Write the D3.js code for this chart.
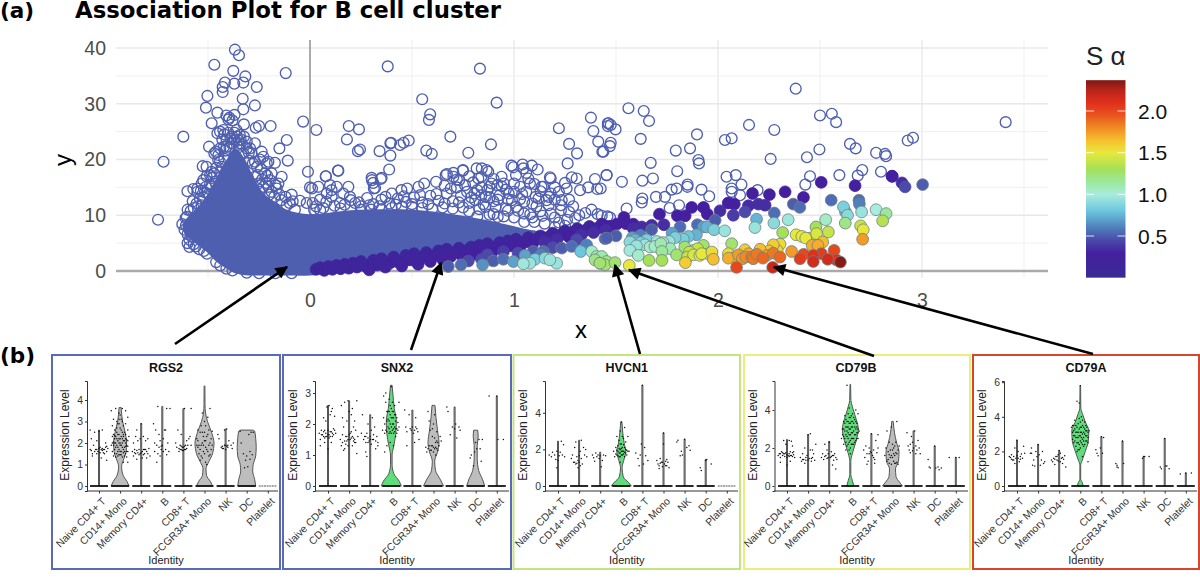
<!DOCTYPE html>
<html><head><meta charset="utf-8"><title>Association Plot</title>
<script src="https://d3js.org/d3.v7.min.js"></script>
<style>html,body{margin:0;padding:0;background:#fff}svg{display:block}</style></head><body>
<svg id="c" width="1200" height="580"></svg>
<script>
// ---------- Association plot: non-marker genes (open circles), read as x,y pairs ----------
const genesPeak=[-.368,39.7,-.348,38.7,-.469,37,-.376,35.9,-.317,34.9,-.119,35.5,-.417,33.8,-.371,33.6,-.327,33.8,-.261,33,-.428,33,-.428,32.1,-.503,31.4,-.33,30.9,-.27,29.7,-.51,29.3,-.327,29,-.454,28.4,-.41,27.9,-.395,27.5,-.37,28,-.4,27.2,-.38,27,-.482,26.5,-.324,26.3,-.266,25.7,-.25,26,-.193,26,-.034,26.8,.031,25.3,-.621,24.1,-.114,23.5,-.15,22,-.495,22.3,-.718,19.6,-.109,19.8,-.01,17.8,.139,18,.078,17,-.745,9.2,-.601,14.3,-.09,13.7,-.626,8.4,-.608,8.2,-.588,7.1,-.591,5.6,-.591,4.3,-.543,3.9,-.58,6.2,-.556,12.1,-.531,11.8,-.564,9.4,-.604,9.7,-.552,14.8,-.572,14.7,-.552,14.2,-.526,18.8,-.507,18.7,-.523,16.3,-.507,17,-.531,15.7,-.49,17.2,-.482,17.8,-.461,21.4,-.441,19.6,-.469,21.1,-.441,25,-.454,24.7,-.425,25.3,-.422,22.3,-.409,23.5,-.38,24.1,-.36,25.3,-.358,24.1,-.344,24.4,-.324,24.1,-.344,22.9,-.294,22,-.27,22.9,-.286,21.1,-.237,21.4,-.229,20.5,-.204,19.6,-.172,19.4,-.245,20,-.212,19.3,-.27,19.6,-.22,17.5,-.188,17.5,-.139,16.9,-.155,15.7,-.163,14.8,-.196,16.3,-.229,15.1,-.449,20.8,-.433,18.7,-.409,22.3,-.327,21.1,-.368,23.5,-.384,22.9,-.482,15.1,-.465,16,-.498,13.8,-.523,13.2,-.27,16.9,-.253,15.7,-.204,15.1,-.188,14.2,-.245,14.2];
const genesPeakDense=[-.42,24.5,-.4,24.8,-.39,23.7,-.37,24.8,-.35,23.4,-.34,23.6,-.31,23.2,-.43,23.6,-.415,21.6,-.395,22.1,-.35,22.2,-.33,22.6,-.31,22,-.3,21.2,-.44,22,-.45,19.9,-.46,18.5,-.44,17.7,-.42,20.1,-.3,19.8,-.28,19.3,-.26,18.7,-.24,18.3,-.255,17.2,-.235,16.4,-.215,15.8,-.21,17.1,-.17,15.4,-.2,13.7,-.175,13.3,-.15,13.7,-.14,12.7,-.12,13.3,-.1,12.2,-.085,12.5,-.47,17.5,-.48,16.7,-.49,15.5,-.51,15.1,-.515,14.1,-.535,14.4,-.54,13,-.55,11.6,-.57,11.3,-.575,12.5,-.585,10.8,-.6,11,-.61,9.5,-.615,7.4,-.6,6.6,-.6,5,-.57,4.8,-.56,4.4,-.52,3.6,-.505,3.1,-.46,1.6,-.44,1,-.41,.4,-.38,.1,-.31,-.3,-.25,-.4,-.17,-.4,-.09,-.4];
const genesMiddle=[.19,26,.24,25.4,.181,23.6,.235,21.5,.245,21.8,-.049,12.6,-.114,11.8,-.074,11,-.016,12.2,.013,12.2,0,15,.01,14.8,.041,15.1,.082,13.9,.106,14.5,.131,15.1,.106,13.3,.098,15.4,.188,15.1,.163,13.9,.196,13.3,.02,11,.049,12.8,.065,11.3,.147,12.2,.221,12.2,.381,36.7,.833,36.3,.55,30.8,.915,30.2,.589,28.1,.583,27.1,.341,21.5,.394,22.9,.394,20.7,.441,22.6,.459,23,.484,23.4,.57,21.6,.597,21,.688,24.1,.776,21.2,.887,22.7,.077,17,.137,18,.388,18.2,.397,23,.302,16.7,.351,16.7,.31,15.8,.319,14.9,.304,16.3,.347,16.5,.313,14.8,.401,13.9,.476,14.8,.448,14.5,.532,15.1,.56,15.7,.618,16,.665,17.2,.703,16.9,.75,18.1,.731,16.3,.806,13.9,.862,13.3,.918,15.4,.974,13.9,1.03,15.1,1.078,15.7,1.143,15.1,1.18,13.9,1.234,12.7,1.106,13.3,1.18,16.6,.671,17.4,.703,17.6,.749,18,.817,18.4,.842,18.4,.866,18.1,.825,16.6,.874,17.8,.89,15.7,.939,16.9,.988,18.9,.997,18.6,1.042,19.1,1.046,18.4,1.087,18.9,1.116,18.2,1.07,16.6,1.176,16.8,1.135,15.1,1.258,14.8,1.283,16.8,1.307,16.6,1.397,16.5,1.324,14.5,1.364,15,1.408,14.7,.24,12.3,.28,13.1,.31,12,.35,12.8,.39,12.1,.43,13,.47,12.4,.51,13.2,.55,12.3,.59,13.5,.63,12.6,.67,13.9,.7,12.5,.74,13.5,.78,12.2,.82,14.5,.85,12,.88,13.2,.91,11.5,.93,13.6,.96,11.2,.99,12.7,1.02,10.8,1.05,12.4,1.08,10.2,1.11,11.6,1.14,9.9,1.17,11.8,1.2,9.6,1.23,10.9,1.26,9.2,1.29,11.6,1.32,10,1.35,10.4,1.38,11,1.41,10.2,.72,15,.76,15.4,.8,15.9,.84,15,.88,15.1,.92,12.8,.96,14.6,1,15.7,1.04,13.8,1.12,13,1.16,12.7,1.22,14.2,1.27,12.8,.86,11.5,.9,10.2,.95,9.8,1,9.6,1.05,8.8,1.1,8.8,1.15,8.5,1.2,7.9,.3,11,.4,11.3,.5,11.5,.6,11.2,.7,11.2,.78,10.7,.82,9.8];
const genesMiddleDense=[.03,11.6,.08,12.4,.12,11.7,.17,11.9,.2,12.7,.25,11.6,.29,11.8,.34,11.6,.37,13.3,.42,11.9,.46,13.4,.5,12,.54,13.6,.58,12,.62,13.8,.66,12.1,.69,14.8,.73,12.3,.77,14.2,.81,12.7,.84,13.6,.87,14.5,.9,12.5,.94,15.2,.97,12.9,1,14.2,1.03,12.9,1.06,14.2,1.09,12.1,1.13,14.3,1.17,13.3,1.2,12.8,1.23,11.8,1.27,10.6,1.3,9.5,.66,15.3,.72,16.4,.78,17,.84,16.9,.9,16.5,.95,15.7,1.01,17.2,1.06,17.6,1.1,15.6,1.2,15,1.25,15.8,.79,13.2,.83,11.1,.88,10.1,.92,9.7,.97,10.8,1.01,11.5,1.05,10.3,1.09,9.6,1.13,10.7,1.18,10.3,1.22,8.7,1.25,8.1,.75,11.4,.65,11.4,.55,11.3,.45,11.5,.35,11.1,.25,11,.15,11.2,.05,10.9];
const genesRight=[1.377,27.5,1.22,25.6,1.389,25.1,1.27,22.8,1.413,23.2,1.309,21.1,1.433,21.4,1.263,19.3,1.454,17.2,1.46,26.5,1.46,26,1.47,22.4,1.561,29.2,1.636,28.7,1.662,26.9,2.381,32.7,2.5,27.9,2.558,28.2,2.579,26.7,2.152,26.2,2.276,25.3,2.067,23.8,2.034,23.5,1.897,24.5,1.863,22,1.793,21.6,1.621,23.7,1.463,26.5,1.474,26.2,1.498,25.4,1.474,23,1.438,21.4,1.67,19.4,1.904,19.9,1.907,19.3,1.8,17.9,2.258,20.1,2.436,20.4,2.497,21.8,2.647,22.8,2.675,22,2.775,21.2,2.819,21,2.824,20.6,2.799,17.8,2.707,18.1,2.685,17.1,2.595,17.2,2.451,17,2.428,15.5,2.042,16.9,2.087,17.2,2.115,15.5,2.067,14.8,2.067,14.2,2.194,14.5,2.108,13.6,1.454,17.2,1.529,16,1.629,16.2,1.681,16.6,1.851,15.5,1.85,15.1,1.797,14.8,1.773,14.6,1.919,14.6,1.957,13.4,1.74,13.3,1.696,13.3,1.629,13,1.626,12.3,1.809,11.8,1.763,11.3,1.552,11.2,1.458,9.8,1.43,9.9,1.471,9.6,1.425,14.8,3.41,26.7,2.93,23.4,2.956,23.9];
// overplotted solid mass of open circles: x, upper and lower edge of the filled cloud
const cloudX=[-.625,-.596,-.556,-.506,-.457,-.408,-.368,-.327,-.278,-.229,-.18,-.114,0,.2,.5,.7,.9,1.05,1.2];
const cloudTop=[8.4,9.8,11.2,13.6,16.8,20,22,20.5,17,14,12.6,11,10.2,10.9,11,10.2,8.9,7.6,6.8];
const cloudBottom=[7.2,6,4.8,3.4,1.6,.4,-.4,-.7,-.8,-.8,-.8,-.8,-.8,0,1,2.5,4,5,6];
// ---------- marker genes: x, y, S-alpha ----------
const markerBand=[.03,.3,.15,.05,.6,.15,.07,.1,.15,.09,.8,.15,.11,.3,.15,.13,1,.15,.15,.4,.15,.17,1.2,.15,.19,.5,.15,.21,1.4,.15,.23,.7,.15,.25,1.7,.15,.27,.9,.15,.29,.2,.2,.31,1.9,.15,.33,1.1,.15,.35,2.2,.15,.37,.7,.2,.39,1.4,.15,.41,2.5,.15,.43,1.7,.2,.45,.9,.25,.47,2.8,.15,.49,2,.2,.51,3.1,.15,.53,1.2,.25,.55,2.4,.2,.57,3.3,.15,.59,1.7,.25,.61,2.8,.2,.63,3.6,.15,.65,2.1,.25,.67,3.9,.15,.69,2.6,.2,.71,3.3,.2,.73,4.1,.15,.75,2.4,.3,.77,3.7,.2,.79,4.3,.15,.81,3,.3,.83,4.6,.15,.85,3.6,.25,.87,4.9,.15,.89,3.2,.3,.91,4.2,.2,.93,5.1,.15,.95,3.9,.3,.97,5.4,.15,.99,4.5,.25,1.01,5.7,.15,1.03,4.3,.3,1.05,5.2,.2,1.07,6,.15,1.09,4.8,.3,1.11,5.7,.2,1.13,6.3,.15,1.15,5.2,.35,1.17,6.1,.2,1.19,6.8,.15,1.21,5.6,.35,1.23,6.5,.2,1.25,7.2,.15,1.27,6.1,.3,1.29,7,.2,1.31,7.6,.15,1.33,6.5,.35,1.35,7.3,.2,1.37,8,.15,1.39,6.9,.35,1.41,7.7,.2,1.43,8.4,.2,1.45,7.3,.35,1.47,8,.3];
const markerLow=[1.381,3.5,1.05,1.405,2.6,1.1,1.397,2,1.2,1.446,1.1,1.25,1.421,1.4,1.25,1.446,5.8,.5,1.327,3.5,.8,1.356,4.7,.6,1.283,4.4,.55,1.234,4.1,.5,1.307,5.6,.45,1.209,1.4,.95,1.176,2,.95,1.152,2.3,.9,1.078,1.4,.95,1.046,1.3,.97,1.103,2.1,.85,1.054,2.8,.7,.997,1.7,.7,1.094,3.5,.5,1.143,3.5,.55,.948,2.1,.55,.899,1.8,.5,.846,1.1,.65,.841,2.1,.45,.776,1.8,.45,.74,1.1,.55,.678,.8,.5,.948,3.5,.4,.87,2.9,.45,1.02,3.2,.45,1.13,2.8,.6,1.19,4.2,.45];
const markerTop=[2.854,17,.3,2.853,17,.3,2.902,15.8,.35,2.917,15.1,.45,3.003,15.5,.5,2.506,15.9,.3,2.672,15.3,.3,2.329,14.2,.3,2.419,13.2,.3,2.252,13.7,.3,2.169,13.9,.3,2.369,12,.5,2.401,11.4,.55,2.555,12.7,.55,2.231,11.8,.35,2.198,12,.35,2.149,11.7,.35,2.05,12.2,.3,2.08,12,.3,2.01,10.8,.35,2.075,10,.4,2.132,10.6,.45,1.871,11.4,.3,1.929,11.4,.3,1.713,10.2,.3,1.801,9.9,.3,1.839,9.9,.3,1.948,10.2,.3,1.986,9.1,.5,1.899,8.3,.55,1.814,7.9,.55,1.735,8.3,.35,1.675,8.2,.35,1.675,7.4,.5,1.626,7.9,.35,1.585,8.4,.3,1.539,9.6,.3,1.503,8.4,.3,1.585,7.6,.35,1.549,8.5,.3,1.446,8.1,.3,1.471,7.9,.3,1.5,6.3,.5,1.455,5.9,.5,1.775,6.8,.7,1.945,7.9,.75,1.98,7.4,.85,2.033,7.2,.95,2.189,9.3,.75,2.181,7.8,.95,2.276,10.4,.55,2.274,8.6,.9,2.344,9.2,.97,2.528,9.2,1.05,2.615,11.5,.85,2.625,10.6,.75,2.635,10,.9,2.693,12,.6,2.691,12.7,.55,2.704,10.6,.95,2.775,11,1];
const markerHot=[2.317,6.9,1.3,2.624,8.6,1.2,2.699,8.1,1.4,2.712,7.4,1.5,2.709,5.7,1.75,2.824,10.3,1.15,2.807,9,1.35,2.383,6.5,1.5,2.411,6.2,1.5,2.451,5.9,1.45,2.48,7.9,1.3,2.483,6.7,1.45,2.541,7,1.4,2.513,5.2,1.65,2.462,4.6,1.7,2.569,3.7,2,2.507,3.1,2.05,2.467,2.8,2.1,2.538,2.1,2.15,2.467,1.7,2.15,2.6,1.6,2.35,2.402,2.2,2.05,2.361,3.5,1.75,2.304,4.8,1.55,2.271,4.7,1.6,2.304,2.5,1.9,2.239,2.8,1.75,2.271,3.2,1.85,2.091,.65,2,2.268,.65,2.2,2.206,3.9,1.65,2.165,2.5,1.85,2.132,3.8,1.6,2.173,2.2,1.85,2.136,2.5,1.8,2.067,4.9,1.25,2.051,3.1,1.55,2.051,2.3,1.7,1.977,2.1,1.65,1.928,4.6,1.25,1.911,2.8,1.5,1.952,3.1,1.45,1.84,1.5,1.6,1.837,4.3,1.25,1.797,2.9,1.25,1.725,1.9,1.3,1.662,1.9,1.3,1.725,3.5,1.15,1.667,4.3,1.05,1.609,2.8,1.05,1.568,3.7,.98,1.568,5.2,.9,1.593,5.6,.75,1.65,5.6,.85,1.642,4.7,.95,1.691,4.4,1.05,1.765,4,1.1,1.565,1,1.5,1.495,1.5,1.25,1.455,1.7,1.2,1.43,2.6,1.1,1.422,1.4,1.2,1.855,6.2,.8,1.83,5.7,.85,1.894,6.5,.75,1.928,7.9,.7,1.72,4.9,1.1,1.76,5.3,.95,1.79,6,.85,1.73,5.1,1,1.7,5.3,.95,1.62,5.1,.85,1.6,4.5,.95,1.58,6,.7,1.62,6.4,.6,1.88,3.7,1.35,1.9,4,1.4,1.86,3.4,1.4,1.88,2.9,1.45,1.92,3.1,1.5,1.85,2.5,1.4,1.97,3.4,1.55,2.08,2.4,1.65,2.1,2.9,1.75,2.12,2.2,1.75,2.15,3.1,1.7,2.19,3,1.85,2.22,2.3,1.9,2.25,3.6,1.6,2.29,3.7,1.55,2.42,3,2,2.43,5.9,1.5,2.49,4.6,1.7,2.58,2,2.1];
const colorStops=[0,.3,.45,.6,.8,1,1.15,1.3,1.5,1.65,1.8,1.95,2.1,2.25,2.37];
const colorValues=["#3a2a96","#44209f","#4b4aa9","#4f7fbc","#6cc6dd","#a8ecdd","#9be89a","#a5e05a","#e8e83a","#f6be2e","#f08a22","#e8541f","#e12f1d","#b92419","#7d1a16"];
const legendTicks=[.5,1,1.5,2];
// ---------- violin panels ----------
const identities=["Naive CD4+ T","CD14+ Mono","Memory CD4+","B","CD8+ T","FCGR3A+ Mono","NK","DC","Platelet"];
const genes=["RGS2","SNX2","HVCN1","CD79B","CD79A"];
const maxRGS2=[2.6,3.65,2.9,3.7,3.6,4.65,2.65,2.6,.02];
const maxSNX2=[2.6,2.75,2.3,3.25,2.45,2.6,2.55,1.8,2.9];
const maxHVCN1=[2.45,2.5,1.85,3.5,5.5,2.9,2.55,1.45,.02];
const maxCD79B=[2.45,2.7,2.35,5.35,2.75,3.4,2.9,2.1,1.5];
const maxCD79A=[2.65,2.4,2.05,5.8,2.85,2.6,1.7,2.75,.75];
const shapeRGS2={1:[[0,9],[.2,7],[.5,3],[.9,1.5],[1.3,4],[1.6,6],[2,6.5],[2.5,5],[3,2.5],[3.65,1]],5:[[0,8],[.2,6],[.5,2],[.8,1.5],[1.1,4],[1.5,8],[2,9.5],[2.5,7],[3,3],[3.4,1],[3.8,.5],[4.65,.4]],7:[[0,9],[.3,8],[.7,6],[1,6.5],[1.4,9],[1.8,9.5],[2.2,9],[2.55,8],[2.6,6]]};
const shapeSNX2={3:[[0,10],[.15,8],[.4,2.5],[.7,.8],[1,.8],[1.3,2.5],[1.7,4.5],[2.1,5],[2.5,3],[3,1.5],[3.25,.8]],5:[[0,10],[.2,7],[.5,2],[.8,1.2],[1.1,4],[1.4,5.5],[1.8,4],[2.2,2.5],[2.6,1.5]],7:[[0,9],[.2,7],[.5,3],[.9,1.5],[1.3,1.5],[1.6,2.5],[1.8,2]]};
const shapeHVCN1={3:[[0,10],[.2,7],[.5,2],[1,.8],[1.4,2.5],[1.9,4.5],[2.3,3],[2.9,1.5],[3.5,.6]]};
const shapeCD79B={3:[[0,3.5],[.3,2],[.6,.5],[1.3,.5],[1.7,2],[2.4,6],[3,8],[3.5,6],[4,3],[4.2,2],[4.5,.6],[5.35,.3]],5:[[0,10],[.2,7],[.5,3.5],[.9,3],[1.3,6],[1.8,6.5],[2.3,4],[2.8,2],[3.4,.7]]};
const shapeCD79A={3:[[0,3],[.2,2],[.4,.4],[1.2,.4],[1.5,2],[2,5],[2.6,8],[3.2,8.5],[3.7,5],[4.2,2],[4.5,.5],[5.8,.3]]};
const ticksRGS2=[0,1,2,3,4],ticksSNX2=[0,1,2,3],ticksHVCN1=[0,2,4],ticksCD79B=[0,2,4],ticksCD79A=[0,2,4,6];
const dotsRGS2=[
[-8,1.7,-6,1.5,-5,1.9,-3,1.7,-1,1.6,1,1.8,3,1.65,5,1.7,7,1.6,8,1.75,-7,2.2,-4,2.5,3,2.6,-2,2.1,6,2,-6,1.4,2,1.3,7,1.2,0,2.55,-8,2.6,4,1.7,5,1.5,-2,1.7,0,1.75,1,1.55,3,1.75,6,1.8,-4,1.6,-2,1.5,2,1.7,4,1.55,-7,1.65,7,1.85],
[-8,3.5,-6,3.1,-4,3.6,-1,3.4,2,3.6,5,3.5,7,3.2,-7,2.8,-5,2.6,-3,3,-1,2.9,1,3.1,3,2.8,5,2.9,7,2.6,-7,2.3,-5,2.2,-3,2.5,-1,2.4,1,2.6,3,2.3,5,2.4,7,2.1,-6,1.9,-4,2,-2,2.1,0,1.9,2,2,4,2.1,6,1.9,8,2.3,-7,1.6,-5,1.7,-3,1.5,-1,1.7,1,1.6,3,1.7,5,1.5,7,1.6,-6,1.4,-4,1.35,-2,1.4,0,1.45,2,1.35,4,1.4,6,1.35,-8,1.9,-3,2.2,0,2.2,3,2.4,-1,2,4,1.8,2,2.2,-2,1.8,0,1.6,-5,2,5,2,3,1.1,7,1.1,-7,2,-6,2.4,-5,1.5,-4,1.8,-4,2.3,-3,1.9,-3,2.7,-2,2.4,-2,1.6,-1,2.2,-1,1.45,0,2.7,0,2,1,1.9,1,2.3,1,1.45,2,1.8,2,2.5,3,2.1,3,1.55,4,2.5,4,1.6,5,1.85,5,2.2,6,1.6,6,2.15,7,1.85,-6,2.05,-5,2.35,-2,2.9,2,3,-1,3.1,0,3.3],
[-8,1.6,-7,1.4,-6,1.7,-5,1.5,-3,1.55,-2,1.7,-1,1.5,1,1.6,2,1.45,3,1.7,5,1.6,6,1.5,7,1.75,8,1.4,-7,2,-5,2.3,-3,2.1,-1,2.2,2,2.3,4,2.1,6,2.2,-4,2.6,0,2.9,1,1.3,-4,1.25,5,1.3,-4,1.65,0,1.55,3,1.5,-2,1.45,-6,1.55,4,1.7,2,1.7],
[-8,2.9,-6,2.6,-5,1.9,-3,1.8,-2,2.1,-1,1.7,0,1.9,1,2.2,2,2.6,4,3.6,-4,3.7,-7,1.6,-4,1.5,-2,1.4,3,1.7,5,2,6,1.6,-5,1.1,7,3.6,3,2.6,-7,2,-1,1.85,1,1.6,-3,2.4,4,1.45],
[-7,2,-6,1.8,-4,1.75,-3,1.9,-2,1.7,-1,1.8,0,1.65,1,1.85,2,1.7,3,1.75,4,1.9,5,2.2,6,2.3,7,1.9,-5,2.6,-2,2.4,1,3.6,7,3.6,3,2.1,-4,1.6,-3,1.7,-2,1.85,-1,1.65,0,1.8,1,1.7,2,1.9],
[-7,2.2,-6,1.8,-5,1.5,-4,2.5,-3,1.9,-2,1.3,-1,1.6,0,2.1,1,1.1,2,1.7,3,2.4,4,1.4,5,2,6,1.7,7,2.55,-6,2.6,-3,2.8,0,3,3,3.2,5,3.6,-4,1.2,-1,2.3,2,1,1,2.8,-2,3.4,-7,1.9,-6,2.1,-5,1.9,-4,1.7,-3,1.4,-2,2,-2,2.5,-1,1.9,0,1.5,0,2.5,1,1.8,1,2.1,2,2.3,3,1.6,4,1.9,4,2.6,5,1.45,6,2.2,7,1.9],
[-7,2.4,-6,2.2,-4,1.8,-3,1.85,-2,1.75,-1,1.9,0,1.7,1,1.85,2,1.9,3,2.1,5,1.9,6,1.75,7,2,-1,2.6,1,2.65,-3,1.75,0,1.9,2,1.8],
[-6,2.55,-3,1.5,-1,1.2,1,.9,3,1.6,5,1.45,-5,2,2,2.4,4,2.5,6,2.5,0,1.4,-2,.85,3,1.25],
[]];
const dotsSNX2=[
[-8,1.7,-7,1.5,-6,1.8,-5,1.65,-4,1.75,-3,1.55,-2,1.7,-1,1.6,0,1.8,1,1.65,2,1.6,3,1.75,4,1.7,5,1.65,6,1.8,7,1.7,-4,2.2,-2,2.1,1,2.6,2,2.3,3,2.4,4,2.5,-1,2.55,6,2.25,-7,1.3,-3,1.4,0,1.2,3,1.4,-6,1.65,-4,1.6,-2,1.6,0,1.65,2,1.75,4,1.6,-3,1.8,1,1.55,5,1.85],
[-8,1.5,-7,2.6,-6,1.4,-5,1.9,-4,2.7,-3,1.6,-2,2.1,-1,1.5,0,2.4,1,1.7,2,1.55,3,2.5,4,1.45,5,2.1,6,1.4,7,2.75,8,1.6,-6,2.2,-4,1.2,-2,1.6,0,1.65,2,2.3,4,1.9,5,1.5,-5,1.15,-1,2.75,3,1.3,6,1.8,7,1.05,-7,1.3,-6,1.65,-4,1.45,-3,1.35,-2,1.45,-1,1.3,1,1.5,2,1.75,3,1.6,4,1.55,5,1.4],
[-8,1.7,-6,1.5,-5,1.6,-4,1.4,-3,1.7,-2,1.55,-1,1.45,0,1.6,1,1.8,2,1.5,3,1.65,4,1.9,5,1.45,6,1.6,7,1.3,-7,2.3,-4,1.1,-2,2,2,2.2,5,1.2,7,1.4,-3,.95,-4,1.6,-2,1.4,0,1.5,1,1.35,3,1.5],
[-8,1.8,-7,2.2,-6,1.7,-5,2.7,-5,3,-4,2.1,-3,1.9,-3,2.4,-2,1.7,-2,2.1,-2,2.8,-1,2.3,-1,1.75,0,1.9,0,2.5,0,3.2,1,1.8,1,2.2,1,2.7,2,2,2,2.4,2,1.7,3,1.9,3,2.6,4,2.1,4,1.6,5,2.2,5,1.85,6,2.05,7,1.9,-4,1.3,-6,1.1,7,2.7,-7,2.9,-1,1.4,2,1.3,-6,2,-5,1.8,-4,1.75,-4,2.4,-3,2.15,-2,1.85,-2,2.4,-1,2,-1,2.6,0,1.7,0,2.2,1,2,1,2.4,2,1.85,2,2.2,3,1.75,3,2.3,4,1.85,4,2.3,5,1.7,6,1.8],
[-6,1.9,-5,1.75,-3,2.3,-2,1.85,-1,1.8,0,1.9,1,1.7,2,1.8,3,2.2,4,1.85,-7,2.45,5,1.75,6,1.5,-5,1.3,2,1.4,3,1.9],
[-7,1.25,-6,1.1,-5,2.4,-4,1.3,-3,1.8,-2,1.15,-1,1.6,0,2,1,1.2,2,1.4,3,1.75,4,1.15,5,1.3,6,1.6,7,1.45,-4,2.1,-1,1.3,1,2.3,2,1,-3,1.15,0,1.1,3,1.2,-5,1.2,-2,1.3,1,1.55,2,1.25,4,1.4,-1,1.85,0,1.25,3,1.45],
[-7,2.55,-6,2.4,-2,1.9,0,1.85,1,2,4,1.9,5,1.8,-4,1.65,2,1.55],
[-5,.9,-4,1,-1,1.1,0,1.4,1,1.2,4,1.2,5,.8,3,1.5,-2,.65,6,1.5],
[-7,2.9,0,2.9,1,1.5,6,1.5]];
const dotsHVCN1=[
[-8,1.7,-6,1.6,-5,1.85,-3,1.7,-2,1.45,-1,1.9,1,1.65,2,1.85,3,2.45,4,1.7,5,2.25,6,1.6,-1,1,0,1.4],
[-7,1.5,-6,1.7,-5,1.3,-4,2.1,-3,1.2,-2,1.6,-1,1.4,0,1.3,1,1.9,2,1.5,3,1.2,4,2.1,5,1.7,6,2,7,1.6,-3,2.4,2,2.5,-1,1,1,1.1,-4,1.3,-2,1.25,0,1.65],
[-7,1.7,-6,1.55,-4,1.8,-3,1.6,-2,1.7,-1,1.5,0,1.65,2,1.4,3,1.7,5,1.65,-5,1.35,1,1.05],
[-7,1.9,-6,1.6,-5,2.1,-4,2.7,-4,1.7,-3,1.9,-3,2.2,-2,1.6,-2,2.5,-2,1.8,-1,2,-1,3,-1,1.6,0,1.9,0,2.3,0,3.5,1,1.7,1,2.1,1,2.7,2,1.9,2,2.6,3,1.6,3,2.1,4,1.8,4,2.4,5,1.95,6,2.7,7,1.9,-1,1.3,3,3.2,-5,1.75,-4,1.95,-3,1.65,-2,2.05,-1,1.8,-1,2.3,0,1.7,0,2.05,1,1.9,2,1.75,2,2.25,3,1.85,4,2,5,1.7,6,1.9],
[-6,1.8,-4,1.5,-2,1.7,-1,2.3,0,5.5,1,1.2,2,2.1,3,1.65,5,1.4,-3,1.1],
[-6,1.4,-5,1.2,-4,1.1,-3,1.5,-2,1.3,-1,1.05,0,2.3,1,1.2,2,1.35,3,1.1,4,1.3,5,1,0,2.9,-4,.95,-3,1.25,-1,1.3,2,1.1,3,1.45],
[-7,2.4,-6,2.5,-4,1.65,-3,1.9,-2,1.7,0,2.55,2,2.1,4,2.2,5,1.95],
[-5,1,-4,.85,0,1.4,1,1.45,5,1.2],
[]];
const dotsCD79B=[
[-8,1.6,-7,1.7,-6,1.5,-5,1.8,-4,1.6,-3,1.7,-2,1.55,-1,1.75,0,1.65,1,1.6,2,1.7,3,1.8,4,1.6,5,1.75,6,1.65,7,1.5,-3,2.4,-1,2.2,2,2.4,4,2.35,-6,1.25,0,1.1,3,1.3,5,2.1,-6,1.7,-4,1.75,-2,1.7,0,1.5,2,1.55,3,1.6,5,1.55,6,1.8],
[-7,1.5,-6,1.3,-5,1.7,-4,1.4,-3,2,-2,1.35,-1,1.6,0,2.7,1,1.45,2,1.9,3,1.3,4,1.5,5,1.7,6,1.35,7,2.2,-3,1.2,2,2.75,4,1.9,-5,1.4,-2,1.5,0,1.35,3,1.45],
[-7,1.5,-6,1.7,-5,1.4,-4,2.2,-3,1.6,-2,1.45,-1,1.7,0,2.3,1,1.5,2,1.8,3,1.6,4,1.35,5,1.7,6,1.5,7,1.4,-2,1.9,3,1.1,6,.9,-4,1.55,-1,1.5,2,1.55,4,1.6],
[-8,2.5,-7,3,-6,3.4,-6,2.6,-5,2.9,-5,3.7,-4,2.3,-4,3.1,-4,2.7,-3,3.4,-3,2.1,-3,2.9,-2,3.8,-2,2.5,-2,3.1,-1,1.9,-1,2.7,-1,3.3,-1,4.1,0,2.4,0,3,0,3.6,0,2,1,2.8,1,3.4,1,2.2,2,3.1,2,2.5,2,3.8,3,2.9,3,3.3,3,2.2,4,2.7,4,3.5,5,3,5,2.4,6,3.3,6,2.8,7,3,7,2.5,8,2.9,-3,5.3,5,4,7,3.8,-7,2.7,-6,3,-6,2.2,-5,3.3,-5,2.5,-4,3.5,-4,1.9,-3,2.6,-3,3.1,-2,2.2,-2,2.8,-2,3.4,-1,2.3,-1,3,-1,3.6,0,2.7,0,3.3,0,1.7,1,2.5,1,3.1,1,3.7,2,2.2,2,2.8,2,3.4,3,2.5,3,3.6,4,2.3,4,3.1,5,2.7,5,3.4,6,2.5,6,3.1,7,2.8],
[-7,1.9,-6,1.5,-5,2.1,-4,1.7,-3,1.3,-2,2,-1,1.8,0,2.75,1,1.6,2,1.9,3,1.4,4,2.4,5,1.75,6,2,-4,1.15,3,1.2,6,2.7,-2,1.7,0,1.75,2,1.5],
[-7,1.6,-6,2,-5,1.3,-4,1.8,-3,2.3,-2,1.5,-1,1.15,0,1.9,1,1.3,2,2.1,3,1.2,4,1.7,5,1.15,6,2.1,-5,2.9,-1,3.1,1,1.7,4,3.4,2,1.2,0,1.5,-4,1.4,-3,1.65,-2,1.9,-1,1.6,0,2.2,1,2,2,1.6,3,1.75,4,1.25,5,1.9,-3,1.2,3,2.3],
[-6,2.8,-5,2.1,-4,1.9,-3,2.2,-2,2.6,-1,1.85,0,2,1,2.9,2,1.7,3,1.9,4,2.4,5,2,6,1.7,-3,1.75,-1,2.3,2,2.1],
[-6,1.4,-5,1,-4,.95,0,2.1,1,.95,3,1,4,.85,6,.95],
[-6,1.5,0,1.5,3,1.5]];
const dotsCD79A=[
[-7,1.7,-6,1.65,-5,1.8,-4,1.5,-3,1.7,-2,1.3,-1,1.6,0,1.75,1,2,2,1.4,3,1.7,4,1.85,5,1.6,6,2.3,7,1.9,-2,2.2,0,2.65,-5,1.55,-3,1.5,1,1.6,3,1.55],
[-7,1.9,-6,2.2,-5,1.2,-4,1.5,-3,1.15,-2,2,-1,1.7,0,2.4,1,1.8,2,1.2,3,1.5,4,2,5,1.3,6,1.4,-6,1.9],
[-7,1.5,-6,1.4,-5,1.6,-4,1.25,-3,1.7,-2,1.5,-1,1.45,0,2.05,1,1.9,2,1.6,3,1.3,4,1.55,5,1.75,6,1.1,-1,1.8,-4,1.55,-2,1.7,1,1.4,3,1.65],
[-8,3.4,-7,2.7,-6,3.2,-6,2.5,-5,3.8,-5,2.9,-4,2.3,-4,3.5,-4,2.8,-3,3.1,-3,2.5,-3,4.9,-2,3.6,-2,2.1,-2,2.8,-1,3.3,-1,2.4,-1,3.9,0,2.9,0,3.4,0,2.2,0,5.8,1,3.1,1,2.5,1,4,2,3.5,2,2.7,2,3,3,2.3,3,3.4,3,2.8,4,3.7,4,3,5,2.6,5,3.2,6,2.9,6,3.4,7,3.1,7,2.5,8,3.2,-1,4.8,2,1.7,7,1.4,-7,3.1,-7,3.5,-6,2.9,-6,3.5,-5,2.6,-5,3.3,-4,3.1,-3,2.8,-3,3.4,-3,2,-2,2.5,-2,3.1,-1,2.9,-1,2.1,0,2.6,0,3.1,0,3.7,1,2.8,1,3.4,2,2.4,2,3.8,3,2.6,3,3.1,4,2.4,4,3.3,5,2.9,5,3.5,6,2.6,6,3.2,7,2.8],
[-5,2.1,-3,1.75,-1,2.2,0,2.85,1,1.9,2,2.8,-4,1.9],
[-6,1.3,-5,1.1,-4,1.05,0,2.6,1,1.3,-5,1.2],
[-1,1.6,0,1.7,5,1.7,1,1.7],
[-4,1.1,-3,1,0,2.75,1,1.15,4,1,2,1.15],
[-5,.7,0,.75,5,.75]];
const maxima=[maxRGS2,maxSNX2,maxHVCN1,maxCD79B,maxCD79A];
const shapes=[shapeRGS2,shapeSNX2,shapeHVCN1,shapeCD79B,shapeCD79A];
const dots=[dotsRGS2,dotsSNX2,dotsHVCN1,dotsCD79B,dotsCD79A];
const yTicks=[ticksRGS2,ticksSNX2,ticksHVCN1,ticksCD79B,ticksCD79A];
const pairs=(f,n)=>d3.range(0,f.length,n).map(i=>f.slice(i,i+n));

const svg=d3.select("#c"),sans="'Liberation Sans',Arial,sans-serif",bold="'DejaVu Sans',sans-serif";
const x=d3.scaleLinear([0,3],[310,922]),y=d3.scaleLinear([0,40],[271,48]);
// --- titles
svg.append("text").attr("x",0).attr("y",18).attr("font-family",bold).attr("font-weight",700).attr("font-size",21.5).text("(a)");
svg.append("text").attr("x",75).attr("y",18).attr("font-family",bold).attr("font-weight",700).attr("font-size",22.8).text("Association Plot for B cell cluster");
svg.append("text").attr("x",0).attr("y",363).attr("font-family",bold).attr("font-weight",700).attr("font-size",21.5).text("(b)");
// --- grid
const L=116,R=1048,T=40,B=278,grid=svg.append("g");
[-.5,.5,1.5,2.5,3.5].forEach(v=>grid.append("line").attr("x1",x(v)).attr("x2",x(v)).attr("y1",T).attr("y2",B).attr("stroke","#efefef").attr("stroke-width",1));
[1,2,3].forEach(v=>grid.append("line").attr("x1",x(v)).attr("x2",x(v)).attr("y1",T).attr("y2",B).attr("stroke","#e8e8e8").attr("stroke-width",1.3));
[5,15,25,35].forEach(v=>grid.append("line").attr("x1",L).attr("x2",R).attr("y1",y(v)).attr("y2",y(v)).attr("stroke","#efefef").attr("stroke-width",1));
[10,20,30,40].forEach(v=>grid.append("line").attr("x1",L).attr("x2",R).attr("y1",y(v)).attr("y2",y(v)).attr("stroke","#e8e8e8").attr("stroke-width",1.5));
grid.append("line").attr("x1",x(0)).attr("x2",x(0)).attr("y1",T).attr("y2",y(0)).attr("stroke","#aaa").attr("stroke-width",2);
grid.append("line").attr("x1",L).attr("x2",R).attr("y1",y(0)).attr("y2",y(0)).attr("stroke","#aaa").attr("stroke-width",2.6);
// --- axes
const ax=svg.append("g").attr("transform","translate(0,293)").call(d3.axisBottom(x).tickValues([0,1,2,3]).tickSize(0).tickPadding(0).tickFormat(d3.format("d")));
const ay=svg.append("g").attr("transform","translate(106,0)").call(d3.axisLeft(y).tickValues([0,10,20,30,40]).tickSize(0).tickPadding(0));
[ax,ay].forEach(a=>{a.select(".domain").remove();a.selectAll("text").attr("font-family",sans).attr("font-size",19.5).attr("fill","#4d4d4d");});
svg.append("text").attr("x",581).attr("y",338).attr("text-anchor","middle").attr("font-family",sans).attr("font-size",24).text("x");
svg.append("text").attr("transform","translate(71,160) rotate(-90)").attr("text-anchor","middle").attr("font-family",sans).attr("font-size",24).text("y");
// --- cloud and open circles
const blue="#4f5fb0";
svg.append("path").datum(cloudX.map((v,i)=>[v,cloudTop[i],cloudBottom[i]]))
 .attr("d",d3.area().x(d=>x(d[0])).y0(d=>y(d[2])).y1(d=>y(d[1])).curve(d3.curveCatmullRom)).attr("fill",blue);
svg.append("g").selectAll("circle").data(pairs([...genesPeak,...genesPeakDense,...genesMiddle,...genesMiddleDense,...genesRight],2)).join("circle")
 .attr("cx",d=>x(d[0])).attr("cy",d=>y(d[1])).attr("r",5.4).attr("fill","none").attr("stroke",blue).attr("stroke-width",1.35);
// --- marker genes
const color=d3.scaleLinear(colorStops,colorValues).interpolate(d3.interpolateRgb);
const marks=pairs([...markerBand,...markerLow,...markerTop,...markerHot],3).sort((a,b)=>a[2]-b[2]);
svg.append("g").selectAll("circle").data(marks).join("circle")
 .attr("cx",d=>x(d[0])).attr("cy",d=>y(d[1])).attr("r",5.9).attr("fill",d=>color(d[2]))
 .attr("stroke",d=>d[2]<.5?color(d[2]):"#6f8080").attr("stroke-width",.8);
// --- legend
const leg=d3.scaleLinear([.5,2],[236,111]);
const grad=svg.append("defs").append("linearGradient").attr("id","sa").attr("x1",0).attr("x2",0).attr("y1",1).attr("y2",0);
colorStops.forEach((s,i)=>grad.append("stop").attr("offset",s/2.37).attr("stop-color",colorValues[i]));
svg.append("text").attr("x",1086).attr("y",65).attr("font-family",sans).attr("font-size",26).attr("fill","#222").text("S α");
svg.append("rect").attr("x",1086).attr("y",leg(2.37)).attr("width",39.5).attr("height",leg(0)-leg(2.37)).attr("fill","url(#sa)");
legendTicks.forEach(t=>{
 [[1086,1094],[1117.5,1125.5]].forEach(s=>svg.append("line").attr("x1",s[0]).attr("x2",s[1]).attr("y1",leg(t)).attr("y2",leg(t)).attr("stroke","#fff").attr("stroke-opacity",.8));
 svg.append("text").attr("x",1138).attr("y",leg(t)+7.5).attr("font-family",sans).attr("font-size",21).attr("fill","#111").text(t.toFixed(1));
});
// --- violin panels
const boxes=[[52,280,"#5b69b9"],[283,511,"#5b69b9"],[513.5,740,"#c4e480"],[744,970,"#eced80"],[973,1199,"#d8452f"]];
const axisX=[87,315,545,774.5,1004],firstCat=[99,328,558,787,1017],unitPx=[21.5,31,18.3,19,17.3];
genes.forEach((g,k)=>{
 const G=svg.append("g"),[l,r,col]=boxes[k];
 G.append("rect").attr("x",l).attr("y",355).attr("width",r-l).attr("height",214).attr("fill","#fff").attr("stroke",col).attr("stroke-width",2);
 G.append("text").attr("x",(l+r)/2+(k==3?-1:0)).attr("y",372).attr("text-anchor","middle").attr("font-family",sans).attr("font-weight",700).attr("font-size",12.5).attr("fill","#111").text(g);
 const xb=d3.scalePoint(identities,[firstCat[k],firstCat[k]+8*21.1]);
 const yv=d3.scaleLinear([-5/unitPx[k],105/unitPx[k]],[491,381]);
 const gy=G.append("g").attr("transform",`translate(${axisX[k]},0)`).call(d3.axisLeft(yv).tickValues(yTicks[k]).tickSize(2).tickPadding(2).tickFormat(d3.format("d")));
 const gx=G.append("g").attr("transform","translate(0,491)").call(d3.axisBottom(xb).tickSize(2.5).tickPadding(3));
 G.append("line").attr("x1",axisX[k]).attr("x2",r-2).attr("y1",491).attr("y2",491).attr("stroke","#333").attr("stroke-width",1);
 [gx,gy].forEach(a=>{a.selectAll(".domain").attr("stroke","#333").attr("stroke-width",1);a.selectAll("line").attr("stroke","#333");
   a.selectAll("text").attr("font-family",sans).attr("font-size",10.4).attr("fill","#333");});
 gx.select(".domain").remove();
 gx.selectAll("text").attr("text-anchor","end").attr("dy",0).attr("transform","translate(3,7) rotate(-45)");
 G.append("text").attr("x",(l+r)/2).attr("y",564).attr("text-anchor","middle").attr("font-family",sans).attr("font-size",11).attr("fill","#222").text("Identity");
 G.append("text").attr("transform",`translate(${axisX[k]-18},435) rotate(-90)`).attr("text-anchor","middle").attr("font-family",sans).attr("font-size",12).attr("fill","#222").text("Expression Level");
 identities.forEach((id,c)=>{
  const cx=xb(id),top=maxima[k][c],prof=shapes[k][c]||[[0,.5],[top,.5]];
  const isB=c==3&&k>0,fill=isB?"#5fdc7c":"#bdbdbd";
  if(top>.05) G.append("path").datum(prof)
   .attr("d",d3.area().y(d=>yv(d[0])).x0(d=>cx-d[1]).x1(d=>cx+d[1]).curve(d3.curveMonotoneY))
   .attr("fill",fill).attr("stroke","#555").attr("stroke-width",1);
  G.append("line").attr("x1",cx-9).attr("x2",cx+9).attr("y1",yv(0)).attr("y2",yv(0))
   .attr("stroke",top>.05?"#111":"#555").attr("stroke-width",top>.05?1.8:1).attr("stroke-dasharray",top>.05?"none":"2 .6");
  G.selectAll(null).data(pairs(dots[k][c],2)).join("circle")
   .attr("cx",d=>cx+d[0]*1.1).attr("cy",d=>yv(d[1])).attr("r",.75).attr("fill","#111");
 });
});
// --- arrows from panels to genes
const head=svg.select("defs").append("marker").attr("id","ah").attr("viewBox","0 0 10 10").attr("refX",9).attr("refY",5).attr("markerWidth",5.4).attr("markerHeight",4.8).attr("orient","auto");
head.append("path").attr("d","M0,0L10,5L0,10Z").attr("fill","#000");
[[[175,344],[287,267]],[[411,350],[441,263]],[[640,354],[615,265]],[[874,356],[629,270]],[[1093,354],[774,267]]].forEach(a=>
 svg.append("line").attr("x1",a[0][0]).attr("y1",a[0][1]).attr("x2",a[1][0]).attr("y2",a[1][1]).attr("stroke","#000").attr("stroke-width",2.6).attr("marker-end","url(#ah)"));
</script></body></html>
